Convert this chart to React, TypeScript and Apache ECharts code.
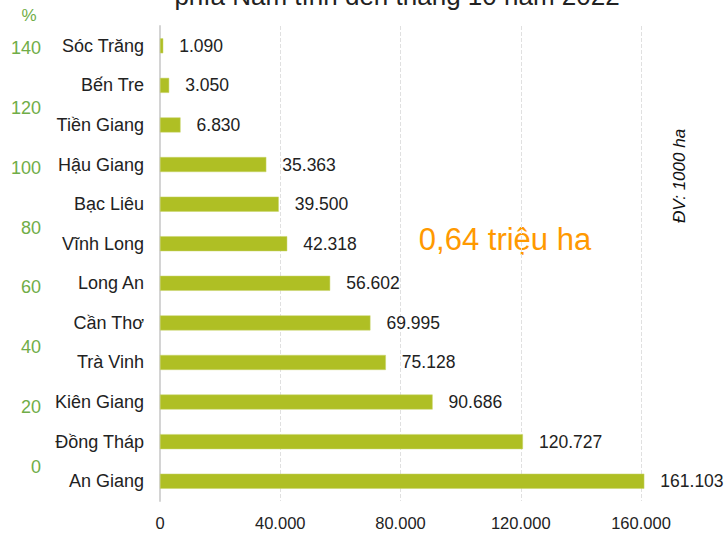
import React, { useEffect, useRef } from "react";
import * as echarts from "echarts";

const categories = [
  "Sóc Trăng",
  "Bến Tre",
  "Tiền Giang",
  "Hậu Giang",
  "Bạc Liêu",
  "Vĩnh Long",
  "Long An",
  "Cần Thơ",
  "Trà Vinh",
  "Kiên Giang",
  "Đồng Tháp",
  "An Giang",
];
const areaValues = [1090, 3050, 6830, 35363, 39500, 42318, 56602, 69995, 75128, 90686, 120727, 161103];
const xTicks = { min: 0, max: 160000, interval: 40000 };
const pctTicks = { min: 0, max: 140, interval: 20 };
const titleText = "phía Nam tính đến tháng 10 năm 2022";
const totalText = "0,64 triệu ha";
const unitText = "ĐV: 1000 ha";

const FONT = "'Liberation Sans', Arial, sans-serif";

function fmt(v: number): string {
  const s = Math.round(v).toString();
  return s.replace(/\B(?=(\d{3})+(?!\d))/g, ".");
}

export default function App() {
  const ref = useRef<HTMLDivElement>(null);
  useEffect(() => {
    if (!ref.current) return;
    const chart = echarts.init(ref.current, undefined, { renderer: "svg" });
    chart.setOption({
      animation: false,
      backgroundColor: "#ffffff",
      textStyle: { fontFamily: FONT },
      grid: [
        { left: 160, right: 87, top: 26, bottom: 32, containLabel: false },
        { left: 49, width: 10, top: 48, bottom: 66, containLabel: false },
      ],
      xAxis: [
        {
          type: "value",
          gridIndex: 0,
          min: xTicks.min,
          max: xTicks.max,
          interval: xTicks.interval,
          axisLine: { show: false },
          axisTick: { show: false },
          axisLabel: {
            formatter: (v: number) => fmt(v),
            color: "#222222",
            fontSize: 16.5,
            fontFamily: FONT,
            margin: 13,
          },
          splitLine: { show: true, lineStyle: { color: "#e0e0e0", type: "dashed", width: 1 } },
        },
        { type: "value", gridIndex: 1, show: false },
      ],
      yAxis: [
        {
          type: "category",
          gridIndex: 0,
          data: categories,
          inverse: true,
          axisLine: { show: true, lineStyle: { color: "#d4d4d4", width: 2 } },
          axisTick: { show: false },
          axisLabel: {
            color: "#222222",
            fontSize: 18,
            fontFamily: FONT,
            margin: 16,
          },
          splitLine: { show: false },
        },
        {
          type: "value",
          gridIndex: 1,
          min: pctTicks.min,
          max: pctTicks.max,
          interval: pctTicks.interval,
          axisLine: { show: false },
          axisTick: { show: false },
          splitLine: { show: false },
          axisLabel: { color: "#70ad47", fontSize: 18, fontFamily: FONT, margin: 8 },
        },
      ],
      series: [
        {
          type: "bar",
          xAxisIndex: 0,
          yAxisIndex: 0,
          data: areaValues,
          barWidth: 15,
          clip: false,
          itemStyle: { color: "#afbf24", borderColor: "#c8d46a", borderWidth: 0.5 },
          label: {
            show: true,
            position: "right",
            distance: 16,
            color: "#222222",
            fontSize: 17.5,
            fontFamily: FONT,
            formatter: (p: any) => fmt(p.value),
          },
        },
      ],
      graphic: [
        {
          type: "text",
          x: 397,
          y: -4,
          style: {
            text: titleText,
            fontSize: 26,
            fontFamily: FONT,
            fill: "#222222",
            textAlign: "center",
            textVerticalAlign: "middle",
          },
        },
        {
          type: "text",
          x: 29,
          y: 15,
          style: {
            text: "%",
            fontSize: 17,
            fontFamily: FONT,
            fill: "#70ad47",
            textAlign: "center",
            textVerticalAlign: "middle",
          },
        },
        {
          type: "text",
          x: 505,
          y: 239,
          style: {
            text: totalText,
            fontSize: 31,
            fontFamily: FONT,
            fill: "#ff9900",
            textAlign: "center",
            textVerticalAlign: "middle",
          },
        },
        {
          type: "text",
          x: 679,
          y: 176,
          rotation: Math.PI / 2,
          style: {
            text: unitText,
            fontSize: 17,
            fontStyle: "italic",
            fontFamily: FONT,
            fill: "#111111",
            textAlign: "center",
            textVerticalAlign: "middle",
          },
        },
      ],
    });
    return () => chart.dispose();
  }, []);
  return <div ref={ref} style={{ width: 728, height: 533, position: "absolute", left: 0, top: 0 }} />;
}
